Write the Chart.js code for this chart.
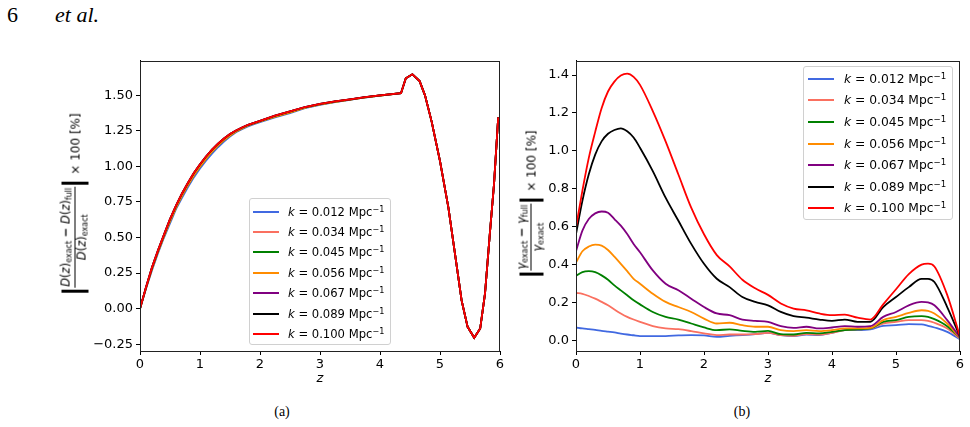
<!DOCTYPE html>
<html>
<head>
<meta charset="utf-8">
<script src="https://cdn.jsdelivr.net/npm/chart.js@4.4.1/dist/chart.umd.min.js"></script>
<style>
  body { margin: 0; background: #fff; width: 970px; height: 427px; position: relative; overflow: hidden; }
  canvas { position: absolute; }
  .hdr { position: absolute; font-family: "Liberation Serif", serif; font-size: 22px; line-height: 22px; color: #000; }
  .cap { position: absolute; font-family: "Liberation Serif", serif; font-size: 14px; line-height: 14px; color: #000; transform: translateX(-50%); }
  .ylab { position: absolute; transform: translate(-50%, -50%) rotate(-90deg); white-space: nowrap;
          display: flex; align-items: center; font-family: "DejaVu Sans", sans-serif; font-size: 12px; line-height: 1; color: #000; z-index: 2; }
  .ylab .frac { display: inline-flex; flex-direction: column; align-items: center; font-size: 11.5px; }
  .ylab .num { border-bottom: 1px solid #000; padding: 0 1px 1px 1px; }
  .ylab .den { padding-top: 1px; }
  .ylab sub { font-size: 8px; vertical-align: -2px; line-height: 1; }
  .ylab .bar { display: inline-block; width: 3px; background: #000; margin: 0 2px; }
  .ylab .tail { margin-left: 5px; }
  .legend { position: absolute; box-sizing: border-box; border: 1px solid #d0d0d0; border-radius: 3px;
            background: rgba(255,255,255,0.85); font-family: "DejaVu Sans", sans-serif; color: #000; z-index: 2; }
  .legend .row { display: flex; align-items: center; }
  .legend .swatch { display: inline-block; height: 2px; }
  .legend sup { font-size: 0.7em; vertical-align: 0.45em; line-height: 1; }
</style>
</head>
<body>
<div class="hdr" style="left:7px; top:4px">6</div>
<div class="hdr" style="left:55px; top:4px"><i>et al.</i></div>

<canvas id="left" width="510" height="340" style="left:0; top:50px"></canvas>
<canvas id="right" width="460" height="340" style="left:510px; top:50px"></canvas>

<div class="ylab" style="left:75px; top:204px">
  <span class="bar" style="height:27px"></span>
  <span class="frac"><span class="num"><i>D</i>(<i>z</i>)<sub>exact</sub> <b>−</b> <i>D</i>(<i>z</i>)<sub>full</sub></span><span class="den"><i>D</i>(<i>z</i>)<sub>exact</sub></span></span>
  <span class="bar" style="height:27px"></span>
  <span class="tail">× 100 [%]</span>
</div>
<div class="ylab" style="left:531px; top:204px">
  <span class="bar" style="height:24px"></span>
  <span class="frac"><span class="num"><i>γ</i><sub>exact</sub> <b>−</b> <i>γ</i><sub>full</sub></span><span class="den"><i>γ</i><sub>exact</sub></span></span>
  <span class="bar" style="height:24px"></span>
  <span class="tail">× 100 [%]</span>
</div>

<div class="legend" id="legL" style="left:249px; top:198px; width:142px; height:147px; padding-top:2.5px; font-size:11.6px"></div>
<div class="legend" id="legR" style="left:803px; top:66px; width:150px; height:154px; padding-top:1px; font-size:12.3px"></div>

<div class="cap" style="left:282px; top:405px">(a)</div>
<div class="cap" style="left:742px; top:405px">(b)</div>

<script>
const kLabels = ['0.012', '0.034', '0.045', '0.056', '0.067', '0.089', '0.100'];
const kColors = ['#4169e1', '#fa7060', '#008000', '#ff8c00', '#800080', '#000000', '#ff0000'];

const xTicks = [0, 1, 2, 3, 4, 5, 6];
const leftYTicks = [-0.25, 0, 0.25, 0.5, 0.75, 1.0, 1.25, 1.5];
const rightYTicks = [0, 0.2, 0.4, 0.6, 0.8, 1.0, 1.2, 1.4];

// panel (a): growth factor error, all k nearly on top of each other
const leftZ = [0, 0.1, 0.2, 0.3, 0.4, 0.5, 0.6, 0.7, 0.8, 0.9, 1.0, 1.1, 1.2, 1.3, 1.4, 1.5, 1.6, 1.7, 1.8, 1.9, 2.0,
  2.25, 2.5, 2.75, 3.0, 3.25, 3.5, 3.75, 4.0,
  4.35, 4.43, 4.54, 4.66, 4.75, 4.86, 5.0, 5.14, 5.25, 5.36, 5.46, 5.57, 5.67, 5.75, 5.83, 5.9, 5.97];
const dLow = [0, 0.14, 0.27, 0.39, 0.50, 0.60, 0.70, 0.78, 0.855, 0.925, 0.985, 1.04, 1.09, 1.135, 1.175, 1.21, 1.24, 1.262, 1.282, 1.298, 1.312,
  1.345, 1.375, 1.41, 1.433, 1.452, 1.468, 1.485, 1.498,
  1.515, 1.62, 1.648, 1.60, 1.50, 1.317, 1.037, 0.71, 0.385, 0.058, -0.128, -0.205, -0.14, 0.105, 0.524, 0.874, 1.345];
const dMid = [0, 0.145, 0.28, 0.40, 0.51, 0.615, 0.71, 0.795, 0.87, 0.94, 1.0, 1.055, 1.105, 1.148, 1.185, 1.218, 1.246, 1.268, 1.288, 1.302, 1.316,
  1.35, 1.38, 1.413, 1.436, 1.455, 1.47, 1.486, 1.499,
  1.515, 1.62, 1.648, 1.60, 1.50, 1.317, 1.037, 0.71, 0.385, 0.058, -0.128, -0.205, -0.14, 0.105, 0.524, 0.874, 1.345];
const dTop = [0, 0.15, 0.29, 0.41, 0.52, 0.63, 0.725, 0.81, 0.885, 0.955, 1.015, 1.07, 1.118, 1.16, 1.196, 1.228, 1.253, 1.274, 1.293, 1.307, 1.32,
  1.357, 1.387, 1.418, 1.44, 1.458, 1.472, 1.487, 1.50,
  1.515, 1.62, 1.648, 1.60, 1.50, 1.317, 1.037, 0.71, 0.385, 0.058, -0.128, -0.205, -0.14, 0.105, 0.524, 0.874, 1.345];
const leftSeries = [dLow, dMid, dMid, dMid, dTop, dTop, dTop];

// panel (b): growth rate error
const rightZ = [0, 0.1, 0.2, 0.3, 0.4, 0.5, 0.6, 0.7, 0.8, 0.9, 1.0, 1.2, 1.4, 1.6, 1.8, 2.0, 2.2, 2.4, 2.6, 2.8, 3.0,
  3.2, 3.4, 3.6, 3.8, 4.0, 4.2, 4.4, 4.6, 4.8, 5.0, 5.2, 5.4, 5.5, 5.6, 5.8, 6.0];
const g012 = [0.068, 0.063, 0.059, 0.055, 0.05, 0.046, 0.042, 0.036, 0.031, 0.027, 0.023, 0.023, 0.023, 0.026, 0.028, 0.026, 0.019, 0.024, 0.028, 0.033, 0.04,
  0.028, 0.023, 0.031, 0.028, 0.04, 0.054, 0.054, 0.058, 0.077, 0.08, 0.086, 0.084, 0.077, 0.068, 0.045, 0.005];
const g034 = [0.25, 0.246, 0.234, 0.22, 0.203, 0.185, 0.163, 0.142, 0.124, 0.11, 0.098, 0.075, 0.063, 0.059, 0.049, 0.037, 0.028, 0.031, 0.031, 0.033, 0.04,
  0.028, 0.024, 0.033, 0.031, 0.04, 0.054, 0.058, 0.063, 0.089, 0.098, 0.107, 0.107, 0.103, 0.093, 0.063, 0.01];
const g045 = [0.34, 0.36, 0.365, 0.36, 0.343, 0.32, 0.29, 0.264, 0.238, 0.212, 0.19, 0.15, 0.124, 0.11, 0.089, 0.068, 0.054, 0.058, 0.05, 0.045, 0.05,
  0.033, 0.031, 0.04, 0.037, 0.045, 0.054, 0.058, 0.063, 0.098, 0.107, 0.124, 0.128, 0.124, 0.112, 0.075, 0.014];
const g056 = [0.41, 0.47, 0.495, 0.505, 0.5, 0.477, 0.442, 0.404, 0.365, 0.325, 0.299, 0.246, 0.203, 0.176, 0.15, 0.115, 0.089, 0.093, 0.08, 0.072, 0.072,
  0.054, 0.049, 0.054, 0.049, 0.054, 0.063, 0.063, 0.066, 0.107, 0.124, 0.145, 0.159, 0.156, 0.142, 0.089, 0.014];
const g067 = [0.47, 0.579, 0.64, 0.67, 0.68, 0.673, 0.64, 0.605, 0.561, 0.509, 0.465, 0.369, 0.299, 0.264, 0.22, 0.176, 0.142, 0.133, 0.11, 0.103, 0.098,
  0.075, 0.066, 0.072, 0.063, 0.068, 0.075, 0.072, 0.075, 0.124, 0.15, 0.185, 0.203, 0.2, 0.185, 0.107, 0.016];
const g089 = [0.561, 0.736, 0.876, 0.98, 1.05, 1.09, 1.11, 1.119, 1.103, 1.07, 1.016, 0.893, 0.753, 0.631, 0.509, 0.404, 0.325, 0.281, 0.229, 0.203, 0.185,
  0.15, 0.128, 0.12, 0.11, 0.103, 0.11, 0.098, 0.098, 0.176, 0.229, 0.281, 0.325, 0.325, 0.308, 0.176, 0.02];
const g100 = [0.596, 0.79, 0.963, 1.10, 1.225, 1.313, 1.365, 1.397, 1.407, 1.39, 1.348, 1.21, 1.05, 0.875, 0.70, 0.56, 0.45, 0.39, 0.32, 0.275, 0.24,
  0.195, 0.168, 0.158, 0.142, 0.133, 0.136, 0.12, 0.11, 0.19, 0.27, 0.35, 0.40, 0.405, 0.39, 0.24, 0.02];
const rightSeries = [g012, g034, g045, g056, g067, g089, g100];

Chart.defaults.font.family = '"DejaVu Sans", sans-serif';
Chart.defaults.color = '#000';

// matplotlib style box around the axes
const frame = {
  id: 'frame',
  afterDatasetsDraw(chart) {
    const a = chart.chartArea, ctx = chart.ctx;
    ctx.save();
    ctx.strokeStyle = '#222';
    ctx.lineWidth = 1;
    ctx.strokeRect(Math.round(a.left) + 0.5, Math.round(a.top) + 0.5, Math.round(a.right - a.left) - 1, Math.round(a.bottom - a.top));
    ctx.restore();
  }
};

function makeDatasets(zs, series, smooth) {
  return series.map((vals, i) => ({
    label: 'k = ' + kLabels[i] + ' Mpc⁻¹',
    data: vals.map((v, j) => ({ x: zs[j], y: v })),
    borderColor: kColors[i],
    backgroundColor: kColors[i],
    borderWidth: 1.8,
    pointRadius: 0,
    fill: false,
    order: kLabels.length - 1 - i,
    tension: 0,
    cubicInterpolationMode: smooth ? 'monotone' : 'default'
  }));
}

function makeChart(id, zs, series, yMin, yMax, yTicks, yDigits, yWidth, smooth) {
  const axisGrid = { drawOnChartArea: false, drawTicks: true, tickLength: 4, color: '#000', tickColor: '#000' };
  new Chart(document.getElementById(id), {
    type: 'line',
    data: { datasets: makeDatasets(zs, series, smooth) },
    options: {
      responsive: false,
      animation: false,
      devicePixelRatio: 1,
      layout: { padding: { top: 9, right: 10, left: 0, bottom: 0 } },
      plugins: { legend: { display: false }, tooltip: { enabled: false } },
      scales: {
        x: {
          type: 'linear',
          min: 0,
          max: 6,
          grid: axisGrid,
          border: { display: true, color: '#000', width: 1 },
          afterBuildTicks: s => { s.ticks = xTicks.map(v => ({ value: v })); },
          afterFit: s => { s.height = 39; },
          ticks: { font: { size: 13 }, padding: 2, maxRotation: 0, callback: v => String(v) },
          title: { display: true, text: 'z', font: { size: 13, style: 'italic' }, padding: { top: 0, bottom: 4 } }
        },
        y: {
          type: 'linear',
          min: yMin,
          max: yMax,
          grid: axisGrid,
          border: { display: true, color: '#000', width: 1 },
          afterBuildTicks: s => { s.ticks = yTicks.map(v => ({ value: v })); },
          afterFit: s => { s.width = yWidth; },
          ticks: { font: { size: 13 }, padding: 3, callback: v => v.toFixed(yDigits).replace('-', '−') }
        }
      }
    },
    plugins: [frame]
  });
}

makeChart('left', leftZ, leftSeries, -0.298, 1.743, leftYTicks, 2, 140, false);
makeChart('right', rightZ, rightSeries, -0.056, 1.475, rightYTicks, 1, 66, true);

function buildLegend(id, rowH, lineLeft, gap) {
  const box = document.getElementById(id);
  kLabels.forEach((k, i) => {
    const row = document.createElement('div');
    row.className = 'row';
    row.style.height = rowH + 'px';
    const sw = document.createElement('span');
    sw.className = 'swatch';
    sw.style.width = '26px';
    sw.style.marginLeft = lineLeft + 'px';
    sw.style.marginRight = gap + 'px';
    sw.style.background = kColors[i];
    const txt = document.createElement('span');
    txt.innerHTML = '<i>k</i> = ' + k + ' Mpc<sup>−1</sup>';
    row.appendChild(sw);
    row.appendChild(txt);
    box.appendChild(row);
  });
}
buildLegend('legL', 20.4, 3, 9);
buildLegend('legR', 21.6, 4, 10);
</script>
</body>
</html>
